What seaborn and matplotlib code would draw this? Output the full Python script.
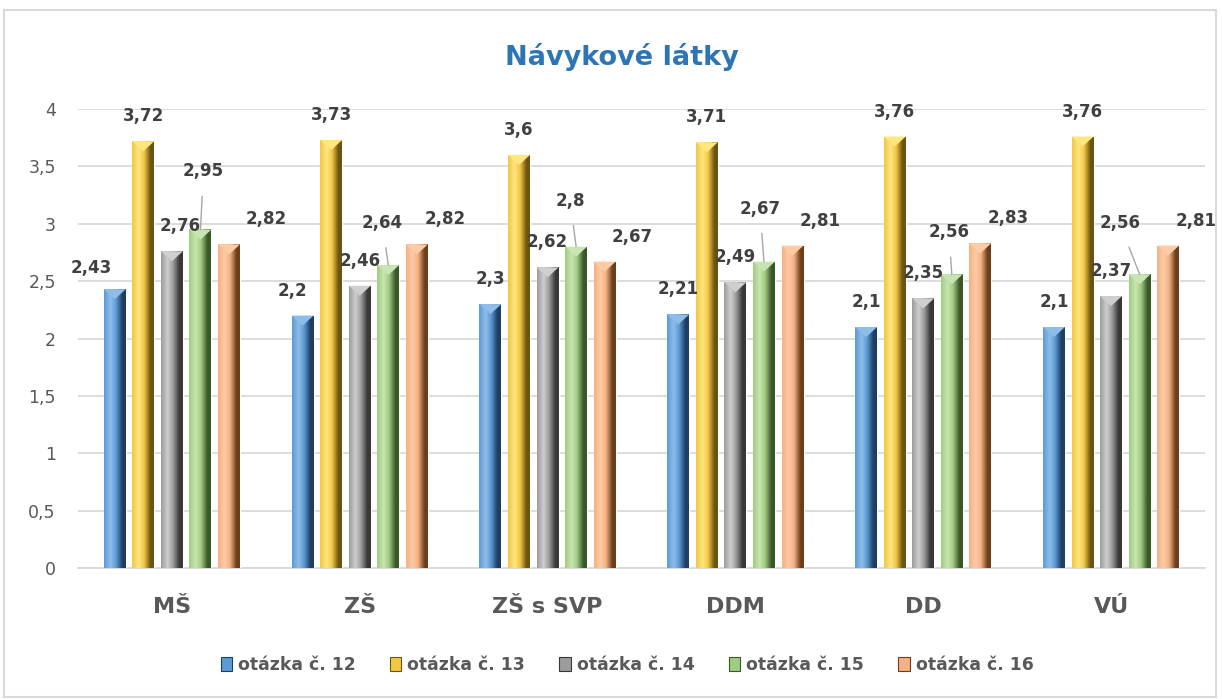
"""Návykové látky - grouped bar chart (Excel style)."""

import numpy as np
import pandas as pd
import matplotlib
matplotlib.use('Agg')
import matplotlib.pyplot as plt
from matplotlib.colors import LinearSegmentedColormap
from matplotlib.patches import Patch, Polygon, Rectangle
import seaborn as sns

# Data
categories = ['MŠ', 'ZŠ', 'ZŠ s SVP', 'DDM', 'DD', 'VÚ']
questions = ['otázka č. 12', 'otázka č. 13', 'otázka č. 14', 'otázka č. 15', 'otázka č. 16']
q12 = [2.43, 2.2, 2.3, 2.21, 2.1, 2.1]
q13 = [3.72, 3.73, 3.6, 3.71, 3.76, 3.76]
q14 = [2.76, 2.46, 2.62, 2.49, 2.35, 2.37]
q15 = [2.95, 2.64, 2.8, 2.67, 2.56, 2.56]
q16 = [2.82, 2.82, 2.67, 2.81, 2.83, 2.81]
y_ticks = [0, 0.5, 1, 1.5, 2, 2.5, 3, 3.5, 4]

# (light, base, dark) shades per series
shades = [
    ('#8FBDEA', '#5B9BD5', '#1E3D63'),
    ('#FFE680', '#F2C744', '#6B5412'),
    ('#CFCFCF', '#9C9C9C', '#383838'),
    ('#C8E5B1', '#A0CC82', '#3A5728'),
    ('#FFCBA6', '#F4B183', '#6C3E1C'),
]

df = pd.DataFrame({
    'kategorie': categories * len(questions),
    'otazka': [q for q in questions for _ in categories],
    'hodnota': q12 + q13 + q14 + q15 + q16,
})

sns.set_style('white')
plt.rcParams['font.family'] = ['DejaVu Sans']

fig = plt.figure(figsize=(12.22, 6.99), dpi=100)
ax = fig.add_axes([78 / 1222, 131 / 699, 1127 / 1222, 459 / 699])

sns.barplot(data=df, x='kategorie', y='hodnota', hue='otazka', order=categories,
            hue_order=questions, palette=[s[1] for s in shades], width=0.76, gap=0.23,
            errorbar=None, legend=False, ax=ax, zorder=3)

ax.set_ylim(0, 4)
ax.set_xlim(-0.5, len(categories) - 0.5)
ax.set_yticks(y_ticks)
ax.yaxis.set_major_formatter(plt.FuncFormatter(lambda v, p: f'{v:g}'.replace('.', ',')))
ax.tick_params(axis='y', length=0, pad=16, labelsize=12.5, labelcolor='#595959')
ax.tick_params(axis='x', length=0, pad=21, labelsize=16, labelcolor='#595959')
for lbl in ax.get_xticklabels():
    lbl.set_fontweight('bold')
ax.set_xlabel('')
ax.set_ylabel('')
ax.grid(axis='y', color='#D9D9D9', linewidth=1.3, zorder=0)
ax.set_axisbelow(True)
for side in ['top', 'right', 'left']:
    ax.spines[side].set_visible(False)
ax.spines['bottom'].set_color('#D9D9D9')
ax.spines['bottom'].set_linewidth(1.3)

px_per_unit = ax.bbox.height / 4
tip = 10 / px_per_unit

# label offsets in pixels (dx, up) relative to the bar top
default_dx = [0, 0, 0, 0, 28]
special = {
    (0, 0): (-24, 21), (0, 1): (-10, 25),
    (2, 0): (8, 25),
    (3, 0): (3, 58), (3, 1): (-6, 42), (3, 2): (-6, 46),
    (3, 3): (-4, 53), (3, 4): (-3, 42), (3, 5): (-20, 51),
    (4, 0): (37, 25),
}

grad = np.linspace(0, 1, 64)[None, :]
for si, (cont, (light, base, dark)) in enumerate(zip(ax.containers, shades)):
    cmap = LinearSegmentedColormap.from_list(
        f's{si}', [(0, base), (0.3, light), (0.55, base), (0.85, dark), (1, dark)])
    for ci, bar in enumerate(cont):
        x0, w, h = bar.get_x(), bar.get_width(), bar.get_height()
        im = ax.imshow(grad, cmap=cmap, aspect='auto', extent=(x0, x0 + w, 0, h),
                       zorder=3.5, interpolation='bicubic')
        im.set_clip_path(bar)
        ax.add_patch(Polygon([(x0, h), (x0 + w, h), (x0 + w / 2, h - tip)],
                             closed=True, facecolor=light, edgecolor='none', zorder=4))

        dx, up = special.get((si, ci), (default_dx[si], 25))
        text = f'{h:g}'.replace('.', ',')
        arrow = None
        if si == 3:
            arrow = dict(arrowstyle='-', color='#A6A6A6', lw=1, shrinkA=9, shrinkB=0)
        ax.annotate(text, xy=(x0 + w / 2, h), xytext=(dx * 0.72, up * 0.72),
                    textcoords='offset points', ha='center', va='center',
                    fontsize=12, fontweight='bold', color='#404040',
                    arrowprops=arrow, zorder=6, annotation_clip=False)

ax.set_ylim(0, 4)
ax.set_xlim(-0.5, len(categories) - 0.5)

fig.text(622 / 1222, 1 - 65 / 699, 'Návykové látky', ha='center', va='baseline',
         fontsize=19.5, fontweight='bold', color='#2E75B6')

handles = [Patch(facecolor=s[1], edgecolor=s[2], linewidth=0.8) for s in shades]
fig.legend(handles, questions, loc='center', bbox_to_anchor=(627 / 1222, 34 / 699),
           ncol=5, frameon=False, handlelength=0.65, handleheight=0.9,
           handletextpad=0.35, columnspacing=2.0,
           prop={'size': 12.4, 'weight': 'bold'}, labelcolor='#595959')

fig.patches.append(Rectangle((4 / 1222, 2 / 699), 1212 / 1222, 687 / 699,
                             transform=fig.transFigure, fill=False,
                             edgecolor='#D9D9D9', linewidth=1.5))

plt.savefig('out.png', dpi=100)
plt.close()
